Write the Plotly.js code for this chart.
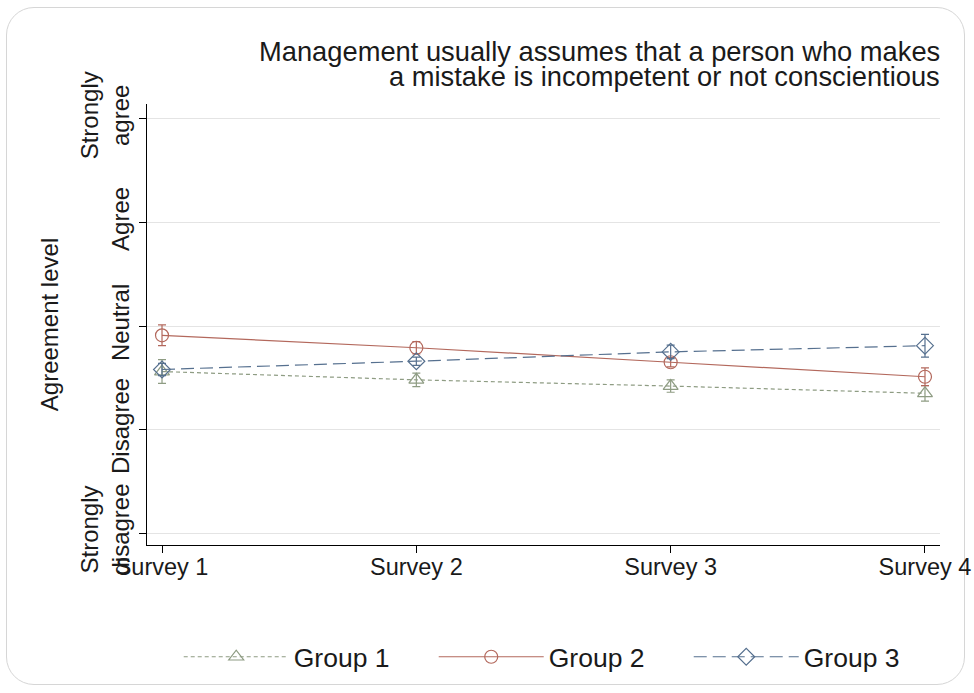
<!DOCTYPE html>
<html>
<head>
<meta charset="utf-8">
<script src="https://cdn.plot.ly/plotly-3.0.1.min.js"></script>
<style>
html,body{margin:0;padding:0;background:#fff;}
#wrap{position:relative;width:974px;height:693px;}
#frame{position:absolute;left:6px;top:7px;width:959px;height:678px;border:1.5px solid #d6d6d6;border-radius:28px;box-sizing:border-box;}
#chart{position:absolute;left:0;top:0;width:974px;height:693px;}
</style>
</head>
<body>
<div id="wrap"><div id="frame"></div><div id="chart"></div></div>
<script>
const surveys = [1, 2, 3, 4];
const surveyLabels = ['Survey 1', 'Survey 2', 'Survey 3', 'Survey 4'];
const levelValues = [1, 2, 3, 4, 5];
const levelLabels = ['Strongly<br>disagree', 'Disagree', 'Neutral', 'Agree', 'Strongly<br>agree'];
const titleLines = ['Management usually assumes that a person who makes', 'a mistake is incompetent or not conscientious'];

const group1 = [2.56, 2.48, 2.42, 2.35];
const group1Err = [0.115, 0.065, 0.06, 0.075];
const group2 = [2.91, 2.79, 2.65, 2.51];
const group2Err = [0.10, 0.06, 0.045, 0.085];
const group3 = [2.58, 2.66, 2.75, 2.81];
const group3Err = [0.06, 0.04, 0.065, 0.11];

const cG1 = '#8e9c83', cG2 = '#b3685c', cG3 = '#56708f';

function tr(name, y, err, color, dash, symbol) {
  return {
    x: surveys, y: y, name: name, type: 'scatter', mode: 'lines+markers',
    line: {color: color, width: 1.2, dash: dash},
    marker: {symbol: symbol, size: 13, color: color, line: {color: color, width: 1.2}},
    error_y: {type: 'data', array: err, visible: true, color: color, thickness: 1.2, width: 4}
  };
}

const data = [
  tr('Group 1', group1, group1Err, cG1, '4px,3px', 'triangle-up-open'),
  tr('Group 2', group2, group2Err, cG2, 'solid', 'circle-open'),
  tr('Group 3', group3, group3Err, cG3, '13px,6px', 'diamond-open')
];

const layout = {
  width: 974, height: 693,
  paper_bgcolor: 'rgba(0,0,0,0)', plot_bgcolor: '#fff',
  margin: {l: 147, r: 34, t: 104, b: 145},
  font: {family: '"Liberation Sans", Arial, sans-serif', color: '#1a1a1a', size: 24},
  annotations: [
    {text: titleLines[0], xref: 'paper', yref: 'paper', x: 1.002, y: 1.12, xanchor: 'right', yanchor: 'middle',
     showarrow: false, font: {size: 27.3, color: '#1a1a1a'}},
    {text: titleLines[1], xref: 'paper', yref: 'paper', x: 1.002, y: 1.062, xanchor: 'right', yanchor: 'middle',
     showarrow: false, font: {size: 27.3, color: '#1a1a1a'}}
  ],
  xaxis: {
    range: [0.941, 4.059], tickvals: surveys, ticktext: surveyLabels,
    showgrid: false, zeroline: false, showline: true, linecolor: '#000', linewidth: 1,
    ticks: 'outside', ticklen: 7, tickcolor: '#000', tickfont: {size: 23.5}, ticklabelstandoff: -6
  },
  yaxis: {
    range: [0.885, 5.144], tickvals: levelValues, ticktext: levelLabels, tickangle: -90,
    showgrid: true, gridcolor: '#e4e4e4', gridwidth: 1, zeroline: false,
    showline: true, linecolor: '#000', linewidth: 1,
    ticks: 'outside', ticklen: 7, tickcolor: '#000', tickfont: {size: 24},
    title: {text: 'Agreement level', font: {size: 24}, standoff: 10}
  },
  showlegend: true,
  legend: {
    orientation: 'h', x: 0.04, xanchor: 'left', y: -0.254, yanchor: 'middle',
    font: {size: 26.5}, itemwidth: 105, entrywidth: 135, entrywidthmode: 'pixels',
    tracegroupgap: 0, bgcolor: 'rgba(0,0,0,0)'
  }
};

Plotly.newPlot('chart', data, layout, {displayModeBar: false, staticPlot: true});
</script>
</body>
</html>
